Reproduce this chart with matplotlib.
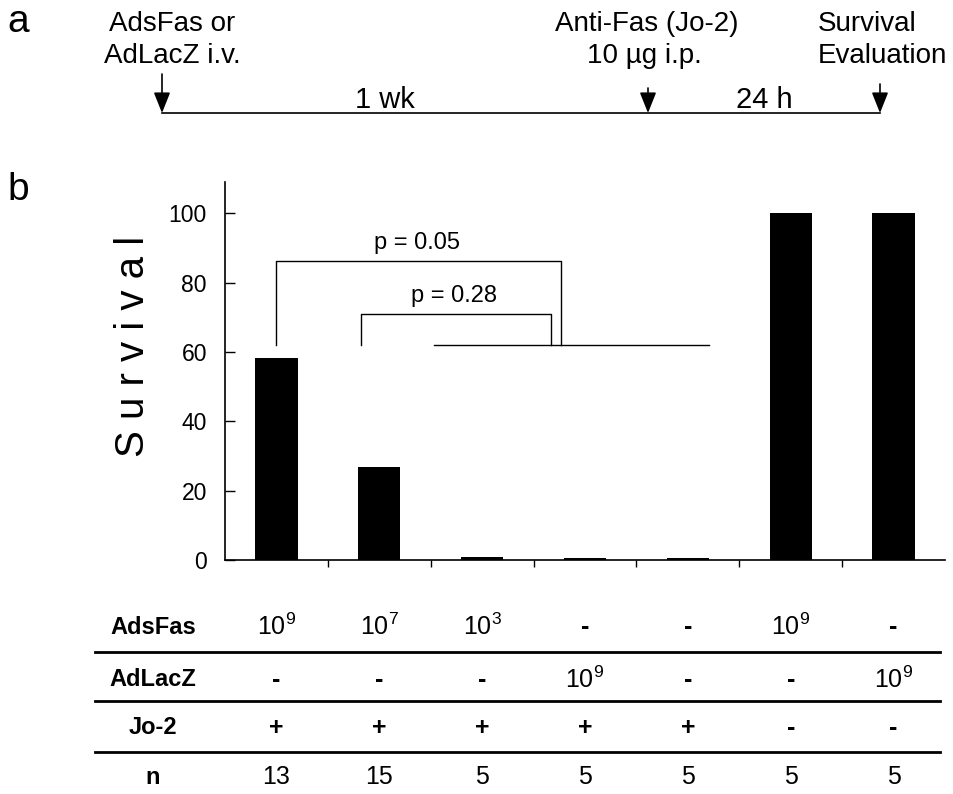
import matplotlib
matplotlib.use("Agg")
import matplotlib.pyplot as plt
import matplotlib.transforms as mtransforms
import numpy as np

plt.rcParams['font.family'] = ['Liberation Sans', 'DejaVu Sans']
plt.rcParams['mathtext.fontset'] = 'custom'
plt.rcParams['mathtext.rm'] = 'Liberation Sans'
plt.rcParams['mathtext.it'] = 'Liberation Sans:italic'
plt.rcParams['mathtext.bf'] = 'Liberation Sans:bold'

# survival (%) per group
survival = [58.3, 26.7, 0.9, 0.7, 0.7, 100, 100]
yticks = [0, 20, 40, 60, 80, 100]

# treatment table below the bars (None = "-")
adsfas_exp = [9, 7, 3, None, None, 9, None]
adlacz_exp = [None, None, None, 9, None, None, 9]
jo2 = ['+', '+', '+', '+', '+', '-', '-']
n_mice = [13, 15, 5, 5, 5, 5, 5]
row_names = ['AdsFas', 'AdLacZ', 'Jo-2', 'n']

# p-value brackets: (left x, right x, top y, label)
brackets = [(0.0, 2.77, 86.2, 'p = 0.05'), (0.82, 2.67, 70.9, 'p = 0.28')]
bracket_base = 62.0

W, H = 954, 794
fig = plt.figure(figsize=(W / 100, H / 100), dpi=100)

# main bar axes (b)
ax = fig.add_axes([225 / W, 1 - 560 / H, 720 / W, 378 / H])
x = np.arange(len(survival))
ax.bar(x, survival, width=0.41, color='black', zorder=3)
ax.set_xlim(-0.5, len(survival) - 0.5)
ax.set_ylim(0, 109)
ax.set_yticks(yticks)
ax.set_yticklabels([str(t) for t in yticks], fontsize=16.5)
ax.tick_params(axis='y', direction='in', length=7, width=1, pad=13)
ax.set_xticks(np.arange(0.5, len(survival) - 0.5, 1.0))
ax.set_xticklabels([])
ax.tick_params(axis='x', direction='out', length=5, width=1)
for s in ['top', 'right']:
    ax.spines[s].set_visible(False)
for s in ['left', 'bottom']:
    ax.spines[s].set_linewidth(1.2)

for x0, x1, ytop, lab in brackets:
    ax.plot([x0, x0, x1, x1], [bracket_base, ytop, ytop, bracket_base],
            color='black', lw=1.0, clip_on=False)
    ax.text((x0 + x1) / 2 - 0.02, ytop + 2.0, lab, ha='center', va='bottom',
            fontsize=17)
ax.plot([1.53, 4.21], [bracket_base, bracket_base], color='black', lw=1.0)

# overlay in pixel coordinates for panel a and table frame
ov = fig.add_axes([0, 0, 1, 1], zorder=5)
ov.set_xlim(0, W)
ov.set_ylim(H, 0)
ov.axis('off')
ov.patch.set_visible(False)

ov.text(18, 22, 'a', fontsize=28, ha='center', va='center')
ov.text(18, 190, 'b', fontsize=28, ha='center', va='center')

# timeline
ov.plot([162, 880], [113, 113], color='black', lw=1.2)
for ax_x, y_top in [(162, 74), (648, 88), (880, 84)]:
    ov.annotate('', xy=(ax_x, 113), xytext=(ax_x, y_top),
                arrowprops=dict(arrowstyle='-|>,head_length=0.7,head_width=0.28',
                                color='black', lw=1.2, shrinkA=0, shrinkB=0,
                                mutation_scale=18))
fs = 20
ov.text(172, 24, 'AdsFas or', fontsize=fs, ha='center', va='center')
ov.text(172, 56, 'AdLacZ i.v.', fontsize=fs, ha='center', va='center')
ov.text(647, 24, 'Anti-Fas (Jo-2)', fontsize=fs, ha='center', va='center')
ov.text(644, 56, '10 µg i.p.', fontsize=fs, ha='center', va='center')
ov.text(818, 24, 'Survival', fontsize=fs, ha='left', va='center')
ov.text(818, 56, 'Evaluation', fontsize=fs, ha='left', va='center')
ov.text(385, 100, '1 wk', fontsize=21, ha='center', va='center')
ov.text(764, 100, '24 h', fontsize=21, ha='center', va='center')

ov.text(133, 346, 'S u r v i v a l', fontsize=29, rotation=90,
        ha='center', va='center')

# table
row_y = [627, 680, 728, 777]
for yl in [652, 701, 752]:
    ov.plot([95, 940], [yl, yl], color='black', lw=2)
for name, yr in zip(row_names, row_y):
    ov.text(153, yr, name, fontsize=17, fontweight='bold', ha='center', va='center')


def dose(e):
    return '-' if e is None else r'$\mathregular{10^{%d}}$' % e


tr = mtransforms.blended_transform_factory(ax.transData, ov.transData)
rows = [[dose(e) for e in adsfas_exp], [dose(e) for e in adlacz_exp],
        jo2, [str(v) for v in n_mice]]
for vals, yr in zip(rows, row_y):
    for i, v in enumerate(vals):
        bold = v in ('+', '-')
        ov.text(i, yr, v, transform=tr, fontsize=18, ha='center', va='center',
                fontweight='bold' if bold else 'normal')

fig.savefig('out.png', dpi=100)
